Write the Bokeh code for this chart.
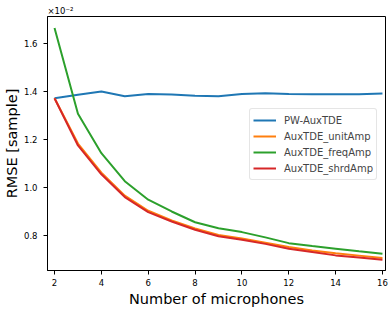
from bokeh.plotting import figure
from bokeh.models import FixedTicker, Legend, LegendItem, Title, CustomJSTickFormatter, Range1d
from bokeh.embed import file_html
from bokeh.resources import INLINE

mics = [2, 3, 4, 5, 6, 7, 8, 9, 10, 11, 12, 13, 14, 15, 16]
pw_auxtde = [1.372, 1.386, 1.400, 1.380, 1.390, 1.387, 1.382, 1.380, 1.390, 1.393, 1.390, 1.388, 1.388, 1.389, 1.392]
unit_amp = [1.372, 1.183, 1.062, 0.966, 0.903, 0.863, 0.829, 0.802, 0.787, 0.770, 0.752, 0.737, 0.726, 0.716, 0.706]
freq_amp = [1.665, 1.307, 1.143, 1.026, 0.949, 0.900, 0.855, 0.830, 0.814, 0.792, 0.768, 0.756, 0.745, 0.734, 0.724]
shrd_amp = [1.372, 1.175, 1.055, 0.960, 0.897, 0.858, 0.824, 0.797, 0.782, 0.765, 0.745, 0.731, 0.717, 0.708, 0.699]

x_ticks = [2, 4, 6, 8, 10, 12, 14, 16]
y_ticks = [0.8, 1.0, 1.2, 1.4, 1.6]

series = [
    ("PW-AuxTDE", pw_auxtde, "#1f77b4"),
    ("AuxTDE_unitAmp", unit_amp, "#ff7f0e"),
    ("AuxTDE_freqAmp", freq_amp, "#2ca02c"),
    ("AuxTDE_shrdAmp", shrd_amp, "#d62728"),
]

p = figure(width=390, height=311, output_backend="svg", toolbar_location=None,
           x_range=Range1d(1.70, 16.13), y_range=Range1d(0.654, 1.7125),
           min_border_left=46, min_border_right=5, min_border_top=16, min_border_bottom=41)
p.xgrid.visible = False
p.ygrid.visible = False
p.outline_line_color = "black"
p.outline_line_width = 1
p.background_fill_color = "white"
p.border_fill_color = "white"

items = []
for name, ys, col in series:
    r = p.line(mics, ys, line_color=col, line_width=2)
    items.append(LegendItem(label=name, renderers=[r]))

p.xaxis.ticker = FixedTicker(ticks=x_ticks)
p.yaxis.ticker = FixedTicker(ticks=y_ticks)
p.yaxis.formatter = CustomJSTickFormatter(code="return tick.toFixed(1);")
for ax in (p.xaxis[0], p.yaxis[0]):
    ax.minor_tick_line_color = None
    ax.major_tick_out = 4
    ax.major_tick_in = 0
    ax.major_tick_line_color = "black"
    ax.axis_line_color = "black"
    ax.major_label_text_font = "DejaVu Sans"
    ax.major_label_text_font_size = "8.5px"
    ax.major_label_text_color = "black"
    ax.axis_label_text_font = "DejaVu Sans"
    ax.axis_label_text_font_size = "14.5px"
    ax.axis_label_text_font_style = "normal"
    ax.axis_label_text_color = "black"
p.xaxis.axis_label = "Number of microphones"
p.yaxis.axis_label = "RMSE [sample]"
p.xaxis.major_label_standoff = 4
p.yaxis.major_label_standoff = 6
p.xaxis.axis_label_standoff = 2
p.yaxis.axis_label_standoff = 1

legend = Legend(items=items, location=(202, 90))
legend.label_text_font = "DejaVu Sans"
legend.label_text_font_size = "10px"
legend.glyph_width = 23
legend.glyph_height = 16
legend.label_height = 16
legend.label_standoff = 8
legend.spacing = 0
legend.padding = 3
legend.margin = 0
legend.border_line_color = "#cccccc"
legend.border_line_width = 1
legend.border_radius = 3
legend.background_fill_alpha = 0.8
p.add_layout(legend)

p.add_layout(Title(text="×10⁻²", align="left", text_font="DejaVu Sans",
                   text_font_size="8.5px", text_font_style="normal",
                   text_color="black", offset=0, standoff=2), "above")

open("out.html", "w").write(file_html(p, INLINE))
